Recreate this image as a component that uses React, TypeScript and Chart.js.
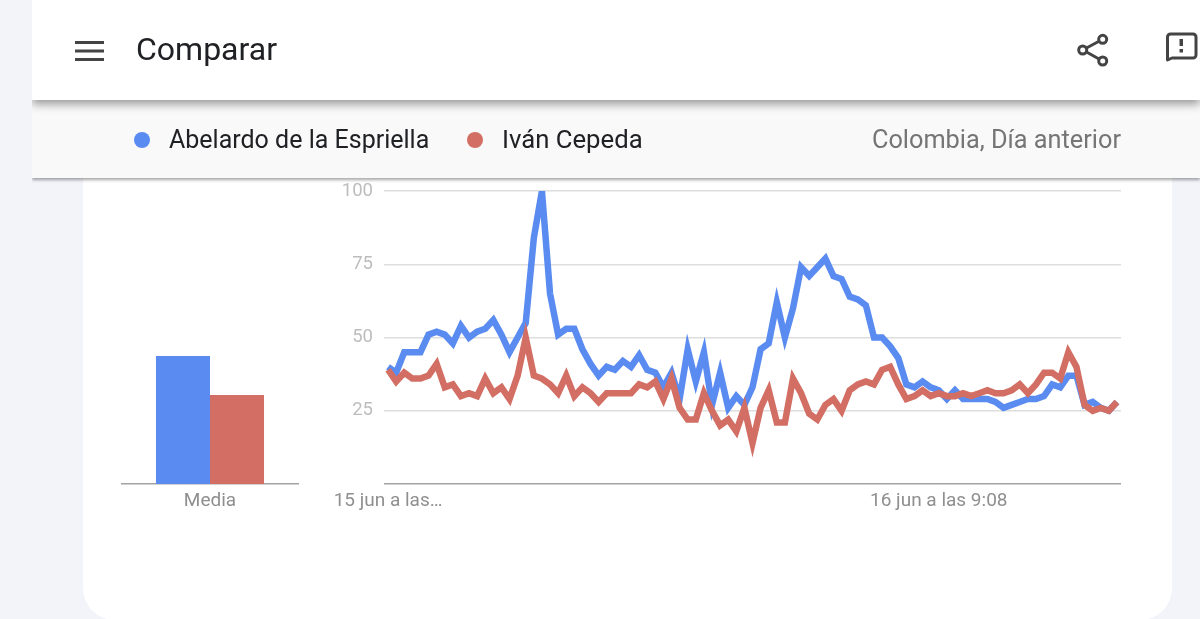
import React, { useEffect, useRef } from "react";
import { Chart, registerables } from "chart.js";

Chart.register(...registerables);

const seriesNames = ["Abelardo de la Espriella", "Iván Cepeda"];
const abelardo = [
  40, 38, 45, 45, 45, 51, 52, 51, 48, 54, 50, 52, 53, 56, 51, 45, 50, 55, 84, 100,
  65, 51, 53, 53, 46, 41, 37, 40, 39, 42, 40, 44, 39, 38, 33, 38, 29, 46, 35, 45,
  27, 38, 26, 30, 27, 33, 46, 48, 62, 50, 60, 74, 71, 74, 77, 71, 70, 64, 63, 61,
  50, 50, 47, 43, 34, 33, 35, 33, 32, 29, 32, 29, 29, 29, 29, 28, 26, 27, 28, 29,
  29, 30, 34, 33, 37, 37, 27, 28, 26, 25, 28,
];
const cepeda = [
  39, 35, 38, 36, 36, 37, 41, 33, 34, 30, 31, 30, 36, 31, 33, 29, 37, 50, 37, 36,
  34, 31, 37, 30, 33, 31, 28, 31, 31, 31, 31, 34, 33, 35, 29, 36, 26, 22, 22, 31,
  25, 20, 22, 18, 26, 14, 26, 32, 21, 21, 36, 31, 24, 22, 27, 29, 25, 32, 34, 35,
  34, 39, 40, 34, 29, 30, 32, 30, 31, 30, 30, 31, 30, 31, 32, 31, 31, 32, 34, 31,
  34, 38, 38, 36, 45, 40, 27, 25, 26, 25, 28,
];
const averageLabels = ["Media"];
const averageAbelardo = [43.5];
const averageCepeda = [30.3];
const yTicks = [100, 75, 50, 25];
const startLabel = "15 jun a las…";
const midLabel = "16 jun a las 9:08";
const midLabelIndex = 68;
const timeLabels = abelardo.map((_, i) =>
  i === 0 ? startLabel : i === midLabelIndex ? midLabel : ""
);

const BLUE = "#5a8bf1";
const RED = "#d26e63";
const AXIS = "#a3a3a3";
const GRID = "#dedede";
const FONT = "Roboto, Arial, sans-serif";

const abs = (left: number, top: number, extra: React.CSSProperties = {}): React.CSSProperties => ({
  position: "absolute",
  left,
  top,
  ...extra,
});

export default function App() {
  const lineRef = useRef<HTMLCanvasElement>(null);
  const barRef = useRef<HTMLCanvasElement>(null);

  useEffect(() => {
    const clip = { top: 0, left: 6, right: 6, bottom: 6 } as any;
    const line = new Chart(lineRef.current!, {
      type: "line",
      data: {
        labels: timeLabels,
        datasets: [
          { label: seriesNames[0], data: abelardo, borderColor: BLUE, borderWidth: 6.5, pointRadius: 0, tension: 0, clip, order: 2 },
          { label: seriesNames[1], data: cepeda, borderColor: RED, borderWidth: 6.5, pointRadius: 0, tension: 0, clip, order: 1 },
        ],
      },
      options: {
        animation: false,
        responsive: false,
        layout: { padding: { top: 0, right: 4, left: 0, bottom: 0 } },
        plugins: { legend: { display: false }, tooltip: { enabled: false } },
        scales: {
          x: {
            offset: true,
            afterFit: (s: any) => { s.height = 36; },
            grid: { display: false },
            border: { display: false },
            ticks: {
              autoSkip: false,
              maxRotation: 0,
              minRotation: 0,
              padding: -2,
              color: "#8f8f8f",
              font: { family: FONT, size: 19 },
              callback: (_v: any, i: number) => timeLabels[i] || null,
            },
          },
          y: {
            min: 0,
            max: 100,
            afterFit: (s: any) => { s.width = 64; },
            afterBuildTicks: (s: any) => { s.ticks = [0, ...yTicks].map((value) => ({ value })); },
            border: { display: false },
            grid: {
              drawTicks: false,
              lineWidth: 1.5,
              color: (c: any) => (c.tick.value === 0 ? AXIS : GRID),
            },
            ticks: {
              padding: 11,
              color: "#bdbdbd",
              font: { family: FONT, size: 18.5 },
              callback: (v: any) => (v === 0 ? "" : String(v)),
            },
          },
        },
      },
    });

    const bar = new Chart(barRef.current!, {
      type: "bar",
      data: {
        labels: averageLabels,
        datasets: [
          { label: seriesNames[0], data: averageAbelardo, backgroundColor: BLUE, barPercentage: 1, categoryPercentage: 0.607 },
          { label: seriesNames[1], data: averageCepeda, backgroundColor: RED, barPercentage: 1, categoryPercentage: 0.607 },
        ],
      },
      options: {
        animation: false,
        responsive: false,
        layout: { padding: { top: 10, left: 0, right: 0, bottom: 0 } },
        plugins: { legend: { display: false }, tooltip: { enabled: false } },
        scales: {
          x: {
            afterFit: (s: any) => { s.height = 36; },
            grid: { display: false },
            border: { display: true, color: AXIS, width: 1.5 },
            ticks: { padding: -2, color: "#8f8f8f", font: { family: FONT, size: 19 } },
          },
          y: { display: false, min: 0, max: 100 },
        },
      },
    });

    return () => {
      line.destroy();
      bar.destroy();
    };
  }, []);

  return (
    <div style={{ position: "fixed", inset: 0, overflow: "hidden", background: "#f2f4fa", fontFamily: FONT }}>
      {/* card */}
      <div style={abs(83, 150, { width: 1089, height: 470, background: "#fff", borderRadius: "0 0 32px 32px" })} />
      <canvas ref={barRef} width={178} height={340} style={abs(121, 180, { display: "block" })} />
      <canvas ref={lineRef} width={805} height={351} style={abs(320, 169, { display: "block" })} />

      {/* legend band */}
      <div style={abs(32, 100, { width: 1168, height: 78, background: "#f9f9f9", boxShadow: "0 2px 3px rgba(0,0,0,0.35)", clipPath: "inset(0 0 -10px 0)" })} />
      <div style={abs(134, 132, { width: 16, height: 16, borderRadius: 8, background: BLUE })} />
      <div style={abs(169, 124, { fontSize: 25, lineHeight: "31px", color: "#202124", whiteSpace: "nowrap" })}>{seriesNames[0]}</div>
      <div style={abs(467, 132, { width: 16, height: 16, borderRadius: 8, background: RED })} />
      <div style={abs(502, 124, { fontSize: 25.7, lineHeight: "31px", color: "#202124", whiteSpace: "nowrap" })}>{seriesNames[1]}</div>
      <div style={{ position: "absolute", right: 79, top: 124, fontSize: 25.3, lineHeight: "31px", color: "#757575", whiteSpace: "nowrap" }}>Colombia, Día anterior</div>

      {/* header */}
      <div style={abs(32, 0, { width: 1168, height: 100, background: "#fff", boxShadow: "0 4px 9px rgba(0,0,0,0.4)", clipPath: "inset(0 0 -20px 0)" })} />
      <svg width={1200} height={100} style={abs(0, 0)}>
        <g fill="#444">
          <rect x={75} y={41} width={29} height={3} />
          <rect x={75} y={49.5} width={29} height={3} />
          <rect x={75} y={58} width={29} height={3} />
        </g>
        <g fill="none" stroke="#444" strokeWidth={3}>
          <path d="M1086.5 48 L1099 41.3 M1086.5 52 L1099 59" />
          <circle cx={1102.7} cy={39.3} r={4} />
          <circle cx={1082.7} cy={50} r={4} />
          <circle cx={1102.7} cy={61} r={4} />
          <path d="M1167.5 60 V37 a3 3 0 0 1 3 -3 H1193 a3 3 0 0 1 3 3 V55 a3 3 0 0 1 -3 3 H1172 Z" strokeLinejoin="round" />
        </g>
        <g fill="#444">
          <rect x={1179.5} y={39} width={3.5} height={7} />
          <rect x={1179.5} y={49} width={3.5} height={3.5} />
        </g>
      </svg>
      <div style={abs(136, 30, { fontSize: 32, lineHeight: "38px", color: "#202124", whiteSpace: "nowrap" })}>Comparar</div>
    </div>
  );
}
